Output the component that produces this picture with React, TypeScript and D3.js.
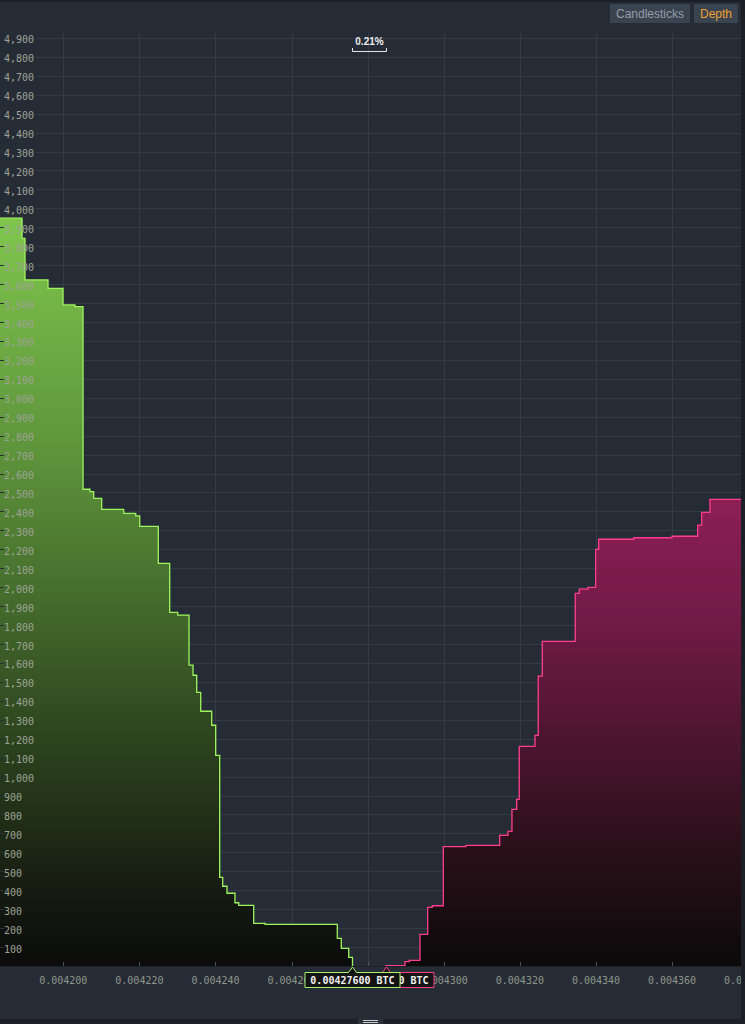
import React, { useRef, useEffect } from "react";
import * as d3 from "d3";

// order book, cumulative depth (BTC price -> cumulative volume)
const bidPrices = [
  0.00418915, 0.00418993, 0.00419598, 0.00419992, 0.00420307, 0.00420518, 0.00420702, 0.00420799,
  0.00421009, 0.00421587, 0.00421903, 0.00422008, 0.00422497, 0.00422796, 0.00423007, 0.00423304,
  0.00423409, 0.00423506, 0.00423611, 0.004239, 0.00424005, 0.0042411, 0.00424189, 0.00424302,
  0.00424512, 0.0042461, 0.00425004, 0.00425301, 0.00427201, 0.00427306, 0.00427501, 0.004276,
];
const bidDepth = [
  3948, 3842, 3622, 3578, 3490, 3481, 2517, 2504, 2469, 2411, 2390, 2376, 2321, 2126, 1867, 1853,
  1588, 1535, 1445, 1345, 1271, 1112, 468, 421, 384, 334, 320, 225, 220, 146, 93, 46,
];
const askPrices = [
  0.0042848, 0.0042898, 0.00429093, 0.00429374, 0.00429577, 0.00429698, 0.00429987, 0.00430583,
  0.00431469, 0.00431687, 0.00431792, 0.00431916, 0.00431984, 0.00432397, 0.00432483, 0.00432589,
  0.00433456, 0.00433561, 0.0043379, 0.00433992, 0.00434071, 0.00434991, 0.00435997, 0.00436673,
  0.00436778, 0.00436996,
];
const askDepth = [
  2, 23, 30, 167, 310, 318, 630, 637, 690, 711, 827, 880, 1160, 1218, 1530, 1714, 1967, 1990, 1999,
  2200, 2253, 2261, 2269, 2328, 2395, 2464,
];
const priceTicks = [0.0042, 0.00422, 0.00424, 0.00426, 0.00428, 0.0043, 0.00432, 0.00434, 0.00436, 0.00438];
const depthTicks = d3.range(100, 5000, 100);
const bestBidLabel = "0.00427600 BTC";
const bestAskLabel = "0.00428480 BTC";
const spreadLabel = "0.21%";
const views = ["Candlesticks", "Depth"];

const W = 745;
const H = 1024;
const plot = { left: 0, right: 741, top: 33, bottom: 966 };
const mono = "'DejaVu Sans Mono', monospace";
const sans = "'Liberation Sans', Arial, sans-serif";

const DepthChart = () => {
  const svgRef = useRef(null);

  useEffect(() => {
    document.body.style.margin = "0";
    const svg = d3.select(svgRef.current);
    svg.selectAll("*").remove();

    const x = d3.scaleLinear().domain([0.00418336, 0.00437812]).range([plot.left, plot.right]);
    const y = d3.scaleLinear().domain([0, 4900]).range([plot.bottom, 37.9]);

    // background
    svg.append("rect").attr("width", W).attr("height", H).attr("fill", "#262c35");
    svg.append("rect").attr("width", W).attr("height", 2).attr("fill", "#1b1f25");

    const defs = svg.append("defs");
    const grad = (id, stops) => {
      const g = defs.append("linearGradient").attr("id", id).attr("x1", 0).attr("y1", 0).attr("x2", 0).attr("y2", 1);
      stops.forEach(([o, c]) => g.append("stop").attr("offset", o).attr("stop-color", c));
    };
    grad("bidFill", [[0, "#80c64d"], [0.3, "#5f963c"], [0.5, "#466e2d"], [0.7, "#2c431e"], [0.88, "#181f12"], [1, "#0b0b0b"]]);
    grad("askFill", [[0, "#8c1f53"], [0.25, "#721b47"], [0.5, "#4f1531"], [0.75, "#2a1019"], [1, "#0c0a0b"]]);

    // grid
    svg
      .append("g")
      .selectAll("line")
      .data(depthTicks)
      .enter()
      .append("line")
      .attr("x1", 36)
      .attr("x2", plot.right)
      .attr("y1", (d) => Math.round(y(d)) + 0.5)
      .attr("y2", (d) => Math.round(y(d)) + 0.5)
      .attr("stroke", "#343b45");
    svg
      .append("g")
      .selectAll("line")
      .data(priceTicks)
      .enter()
      .append("line")
      .attr("x1", (d) => Math.round(x(d)) + 0.5)
      .attr("x2", (d) => Math.round(x(d)) + 0.5)
      .attr("y1", plot.top)
      .attr("y2", plot.bottom)
      .attr("stroke", "#343b45");

    // bids
    const bids = [
      { p: x.domain()[0], v: bidDepth[0] },
      ...bidPrices.map((p, i) => ({ p, v: bidDepth[i] })),
      { p: bidPrices[bidPrices.length - 1], v: 0 },
    ];
    const bidArea = d3.area().curve(d3.curveStepBefore).x((d) => x(d.p)).y0(y(0)).y1((d) => y(d.v));
    const bidLine = d3.line().curve(d3.curveStepBefore).x((d) => x(d.p)).y((d) => y(d.v));
    svg.append("path").datum(bids).attr("d", bidArea).attr("fill", "url(#bidFill)");
    svg.append("path").datum(bids).attr("d", bidLine).attr("fill", "none").attr("stroke", "#9df55e").attr("stroke-width", 1.3);

    // asks
    const asks = [
      { p: askPrices[0], v: 0 },
      ...askPrices.map((p, i) => ({ p, v: askDepth[i] })),
      { p: x.domain()[1], v: askDepth[askDepth.length - 1] },
    ];
    const askArea = d3.area().curve(d3.curveStepAfter).x((d) => x(d.p)).y0(y(0)).y1((d) => y(d.v));
    const askLine = d3.line().curve(d3.curveStepAfter).x((d) => x(d.p)).y((d) => y(d.v));
    svg.append("path").datum(asks).attr("d", askArea).attr("fill", "url(#askFill)");
    svg.append("path").datum(asks).attr("d", askLine).attr("fill", "none").attr("stroke", "#ff3d8f").attr("stroke-width", 1.3);

    // y axis (labels inside the plot)
    const yAxis = svg.append("g");
    yAxis
      .selectAll("line")
      .data(depthTicks)
      .enter()
      .append("line")
      .attr("x1", 0)
      .attr("x2", 4)
      .attr("y1", (d) => Math.round(y(d)) + 0.5)
      .attr("y2", (d) => Math.round(y(d)) + 0.5)
      .attr("stroke", "#2a2f36");
    yAxis
      .selectAll("text")
      .data(depthTicks)
      .enter()
      .append("text")
      .attr("x", 4)
      .attr("y", (d) => y(d) + 5.5)
      .text((d) => d3.format(",")(d))
      .attr("font-family", mono)
      .attr("font-size", "10px")
      .attr("fill", "#9ea296");

    // x axis
    svg.append("line").attr("x1", 0).attr("x2", plot.right).attr("y1", 966.5).attr("y2", 966.5).attr("stroke", "#1e2329");
    const xAxis = svg.append("g");
    xAxis
      .selectAll("line")
      .data(priceTicks)
      .enter()
      .append("line")
      .attr("x1", (d) => Math.round(x(d)) + 0.5)
      .attr("x2", (d) => Math.round(x(d)) + 0.5)
      .attr("y1", 962)
      .attr("y2", 966)
      .attr("stroke", "#4c535c");
    xAxis
      .selectAll("text")
      .data(priceTicks)
      .enter()
      .append("text")
      .attr("x", (d) => x(d))
      .attr("y", 983.5)
      .attr("text-anchor", "middle")
      .text((d) => d3.format(".6f")(d))
      .attr("font-family", mono)
      .attr("font-size", "10px")
      .attr("fill", "#8f958b");

    // best bid / ask callouts
    const callout = (px, label, color) => {
      const cx = Math.round(px) + 0.5;
      const l = cx - 47.5;
      const r = cx + 47.5;
      svg
        .append("path")
        .attr("d", `M${l},972.5 H${cx - 4} L${cx},967 L${cx + 4},972.5 H${r} V987.5 H${l} Z`)
        .attr("fill", "#141414")
        .attr("stroke", color);
      svg
        .append("text")
        .attr("x", cx)
        .attr("y", 983.5)
        .attr("text-anchor", "middle")
        .text(label)
        .attr("font-family", mono)
        .attr("font-size", "10px")
        .attr("font-weight", "bold")
        .attr("fill", "#f2f2f2");
    };
    callout(x(askPrices[0]), bestAskLabel, "#ff3d8f");
    callout(x(bidPrices[bidPrices.length - 1]), bestBidLabel, "#a6f36c");

    // spread marker
    const sx0 = Math.round(x(bidPrices[bidPrices.length - 1])) + 0.5;
    const sx1 = Math.round(x(askPrices[0])) + 0.5;
    svg
      .append("path")
      .attr("d", `M${sx0},48 V51.5 H${sx1} V48`)
      .attr("fill", "none")
      .attr("stroke", "#e6e6e6");
    svg
      .append("text")
      .attr("x", (sx0 + sx1) / 2)
      .attr("y", 45)
      .attr("text-anchor", "middle")
      .text(spreadLabel)
      .attr("font-family", sans)
      .attr("font-size", "10px")
      .attr("font-weight", "bold")
      .attr("fill", "#eeeeee");

    // view switch buttons
    const btns = [
      { x: 610, w: 80, color: "#959ca6" },
      { x: 694, w: 44, color: "#f0a030" },
    ];
    btns.forEach((b, i) => {
      svg.append("rect").attr("x", b.x).attr("y", 4).attr("width", b.w).attr("height", 19).attr("fill", "#3a4450");
      svg
        .append("text")
        .attr("x", b.x + b.w / 2)
        .attr("y", 18)
        .attr("text-anchor", "middle")
        .text(views[i])
        .attr("font-family", sans)
        .attr("font-size", "12px")
        .attr("fill", b.color);
    });

    // frame: right edge and bottom scroller
    svg.append("rect").attr("x", 741).attr("width", 4).attr("height", H).attr("fill", "#1c2026");
    svg.append("rect").attr("y", 1019).attr("width", W).attr("height", 5).attr("fill", "#1d2127");
    svg.append("rect").attr("x", 358).attr("y", 1019).attr("width", 25).attr("height", 5).attr("fill", "#2c323a");
    [1020.5, 1022.5].forEach((ly) =>
      svg.append("line").attr("x1", 363).attr("x2", 378).attr("y1", ly).attr("y2", ly).attr("stroke", "#c8c8c8")
    );
  }, []);

  return <svg ref={svgRef} width={W} height={H} style={{ display: "block" }} />;
};

export default function App() {
  return <DepthChart />;
}
